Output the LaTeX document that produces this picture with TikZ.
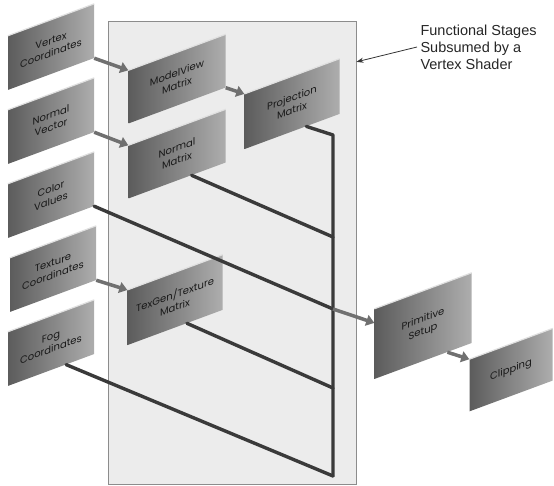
\documentclass[tikz,border=0pt]{standalone}
\usepackage{fontspec}
\usepackage{tikz}
\usetikzlibrary{arrows.meta,calc}
\newfontfamily\cardfont{Poppins}
\newfontfamily\notefont{Liberation Sans}
\definecolor{Pipe}{HTML}{3A3A3A}
\definecolor{Flow}{HTML}{707070}
\definecolor{Panel}{HTML}{ECECEC}

\begin{document}
\begin{tikzpicture}[x=1pt,y=-1pt,
    card/.style={left color=black!64,right color=black!32,yslant=.37,
      minimum width=86pt,minimum height=54pt,inner sep=0pt,align=center,
      font=\cardfont\fontsize{10}{12.5}\selectfont,text=black!90},
    pipe/.style={Pipe,line width=3.4pt,line cap=round,line join=round},
    flow/.style={Flow,line width=3.5pt,-{Triangle[length=8pt,width=11pt]}},
    topedge/.style={black!12,line width=1.2pt}]
  \useasboundingbox (0,0) rectangle (554,486);
  % shader panel
  \node[draw=black!45,fill=Panel,line width=.8pt,minimum width=248pt,
    minimum height=463pt,inner sep=0pt] (sb) at (232,252.5) {};
  % inputs
  \node[card] (vc) at (51,47) {Vertex\\Coordinates};
  \node[card] (nv) at (51,121) {Normal\\Vector};
  \node[card] (cv) at (51,195) {Color\\Values};
  \node[card] (tc) at (53,269) {Texture\\Coordinates};
  \node[card] (fc) at (51,343) {Fog\\Coordinates};
  % fixed-function stages
  \node[card,minimum width=97pt,minimum height=53pt] (mv) at (177,79) {ModelView\\Matrix};
  \node[card,minimum width=97pt,minimum height=53pt] (nm) at (177,154) {Normal\\Matrix};
  \node[card,minimum width=95pt,minimum height=55pt] (pm) at (292,104) {Projection\\Matrix};
  \node[card,minimum width=95pt,minimum height=55pt] (tg) at (175,300) {TexGen/Texture\\Matrix};
  \node[card,minimum width=97pt,minimum height=70pt] (ps) at (423,326) {Primitive\\Setup};
  \node[card,minimum width=83pt,minimum height=52pt] (cl) at (511,370) {Clipping};
  \foreach \n in {vc,nv,cv,tc,fc,mv,nm,pm,tg,ps,cl}
    \draw[topedge] (\n.north west) -- (\n.north east);
  % collecting bar
  \coordinate (bt) at (333,135);
  \coordinate (bb) at (333,476);
  \coordinate (j1) at (333,237);
  \coordinate (j2) at (333,309);
  \coordinate (j3) at (333,388);
  \draw[pipe] ($(pm.south)!0.3!(pm.south east)$) -- (bt) -- (bb);
  \draw[pipe] ($(nm.south)!0.3!(nm.south east)$) -- (j1);
  \draw[pipe] (cv.south east) -- (j2);
  \draw[pipe] ($(tg.south)!0.25!(tg.south east)$) -- (j3);
  \draw[pipe] ($(fc.south)!0.35!(fc.south east)$) -- (bb);
  % short arrows
  \draw[flow] (vc.south east) -- (mv.north west);
  \draw[flow] (nv.south east) -- (nm.north west);
  \draw[flow] (mv.south east) -- (pm.north west);
  \draw[flow] (tc.south east) -- (tg.north west);
  \draw[flow] (j2) -- ($(ps.north west)!0.2!(ps.south west)$);
  \draw[flow] ($(ps.south)!0.5!(ps.south east)$) -- (cl.north west);
  % callout
  \node[font=\notefont\fontsize{14.5}{17}\selectfont,align=left,anchor=west,
    text=black!85] (fs) at (417,47) {Functional Stages\\Subsumed by a\\Vertex Shader};
  \draw[black!80,line width=.8pt,-{Stealth[length=7pt,width=5pt]}]
    (fs.west) -- ($(sb.north east)!0.089!(sb.south east)$);
\end{tikzpicture}
\end{document}
